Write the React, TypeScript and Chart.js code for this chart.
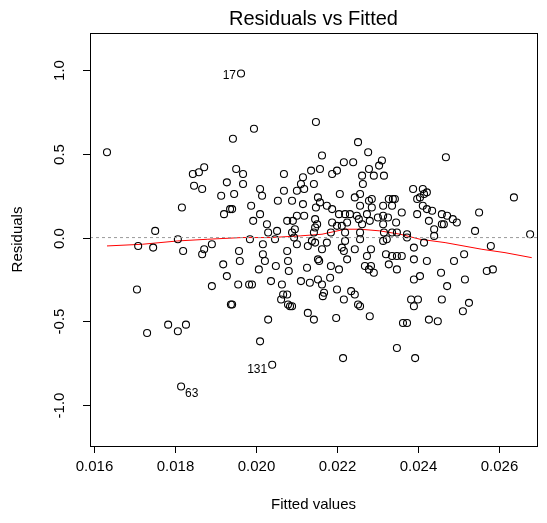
import React, { useEffect, useRef } from "react";
import { Chart, registerables } from "chart.js";

Chart.register(...registerables);

// Fitted values (x) and residuals (y)
const fitted = [
  0.01963, 0.01943, 0.01995, 0.02148, 0.02252, 0.01632, 0.01872, 0.01859, 0.01844, 0.01951,
  0.01968, 0.01928, 0.01968, 0.01847, 0.01867, 0.01946, 0.01914, 0.01817, 0.01921, 0.01936,
  0.01941, 0.01751, 0.02277, 0.02163, 0.02217, 0.0224, 0.02311, 0.02304, 0.02069, 0.02136,
  0.02158, 0.02188, 0.022, 0.02279, 0.02262, 0.02291, 0.02316, 0.02116, 0.02111, 0.02143,
  0.02264, 0.0201, 0.02069, 0.02101, 0.02119, 0.02015, 0.02207, 0.02257, 0.02153, 0.02244,
  0.02286, 0.02279, 0.02328, 0.02054, 0.02089, 0.02158, 0.01988, 0.02116, 0.02175, 0.02188,
  0.02148, 0.02257, 0.02286, 0.02314, 0.02336, 0.02338, 0.0201, 0.01993, 0.02101, 0.02119,
  0.02205, 0.0222, 0.02232, 0.02249, 0.02254, 0.02274, 0.02301, 0.02314, 0.02326, 0.02027,
  0.02077, 0.02091, 0.02146, 0.02151, 0.02188, 0.022, 0.02212, 0.02225, 0.02262, 0.02281,
  0.02314, 0.02052, 0.0203, 0.02089, 0.02096, 0.02146, 0.02143, 0.02185, 0.0222, 0.02257,
  0.02316, 0.02336, 0.02469, 0.02388, 0.02412, 0.02422, 0.02415, 0.02405, 0.02398, 0.02637,
  0.02343, 0.02412, 0.02422, 0.02435, 0.0236, 0.02398, 0.02459, 0.02472, 0.02486, 0.02496,
  0.02551, 0.02427, 0.02459, 0.02464, 0.02346, 0.0244, 0.02541, 0.02677, 0.02373, 0.02348,
  0.01709, 0.01746, 0.01807, 0.0182, 0.01872, 0.01867, 0.01891, 0.01958, 0.0196, 0.01919,
  0.01928, 0.01891, 0.01956, 0.01706, 0.01941, 0.01938, 0.01783, 0.01827, 0.01985, 0.02047,
  0.02094, 0.02101, 0.02138, 0.02146, 0.02128, 0.02175, 0.0222, 0.02257, 0.02314, 0.02323,
  0.02017, 0.02017, 0.02077, 0.02163, 0.02212, 0.02217, 0.02244, 0.02284, 0.02022, 0.02079,
  0.02153, 0.02156, 0.02225, 0.02274, 0.02321, 0.02336, 0.02007, 0.02049, 0.02081, 0.02126,
  0.02185, 0.02205, 0.02269, 0.02284, 0.02279, 0.02291, 0.02328, 0.01983, 0.0199, 0.02037,
  0.02064, 0.02111, 0.02133, 0.02153, 0.02163, 0.02183, 0.022, 0.02235, 0.02244, 0.02168,
  0.02165, 0.02067, 0.02077, 0.02062, 0.02217, 0.02079, 0.02084, 0.02089, 0.02252, 0.02257,
  0.02128, 0.02143, 0.02198, 0.02281, 0.0203, 0.02373, 0.0244, 0.02415, 0.0239, 0.0258,
  0.0236, 0.02348, 0.0239, 0.02422, 0.02489, 0.02514, 0.02348, 0.02457, 0.0257, 0.02585,
  0.0239, 0.02405, 0.02516, 0.02472, 0.02383, 0.024, 0.02459, 0.0239, 0.02526, 0.02511,
  0.02373, 0.02363, 0.02427, 0.02449, 0.01731, 0.01807, 0.01815, 0.0201, 0.0204, 0.02215,
  0.02348, 0.02393,
];

const residuals = [
  0.98, 0.59, 0.65, 0.69, 0.57, 0.51, 0.42, 0.39, 0.38, 0.41,
  0.38, 0.33, 0.32, 0.31, 0.29, 0.26, 0.25, 0.18, 0.14, 0.17,
  0.17, 0.04, 0.51, 0.49, 0.45, 0.45, 0.46, 0.43, 0.38, 0.4,
  0.41, 0.38, 0.4, 0.41, 0.37, 0.37, 0.37, 0.36, 0.32, 0.32,
  0.32, 0.29, 0.28, 0.28, 0.29, 0.25, 0.26, 0.26, 0.24, 0.24,
  0.23, 0.22, 0.23, 0.22, 0.22, 0.21, 0.19, 0.2, 0.19, 0.17,
  0.18, 0.19, 0.18, 0.19, 0.19, 0.23, 0.14, 0.1, 0.13, 0.13,
  0.14, 0.14, 0.14, 0.13, 0.11, 0.14, 0.12, 0.13, 0.12, 0.08,
  0.1, 0.1, 0.11, 0.08, 0.09, 0.07, 0.07, 0.09, 0.08, 0.1,
  0.08, 0.04, 0.03, 0.03, 0.05, 0.06, 0.03, 0.03, 0.03, 0.03,
  0.03, 0.03, 0.48, 0.29, 0.29, 0.27, 0.26, 0.24, 0.23, 0.24,
  0.23, 0.19, 0.17, 0.16, 0.15, 0.14, 0.14, 0.13, 0.11, 0.09,
  0.15, 0.1, 0.08, 0.08, 0.09, 0.05, 0.04, 0.02, 0.02, 0.03,
  -0.05, -0.06, -0.01, -0.08, -0.07, -0.1, -0.04, -0.08, -0.14, -0.16,
  -0.23, -0.29, -0.28, -0.31, -0.4, -0.4, -0.52, -0.52, -0.01, -0.01,
  0.0, -0.04, -0.02, -0.03, -0.05, -0.03, -0.02, -0.01, -0.02, -0.01,
  -0.04, -0.1, -0.08, -0.07, -0.06, -0.08, -0.07, -0.07, -0.14, -0.14,
  -0.13, -0.14, -0.13, -0.11, -0.1, -0.11, -0.19, -0.17, -0.2, -0.18,
  -0.17, -0.19, -0.17, -0.17, -0.19, -0.21, -0.16, -0.28, -0.28, -0.26,
  -0.28, -0.26, -0.27, -0.25, -0.28, -0.24, -0.31, -0.32, -0.34, -0.33,
  -0.35, -0.34, -0.34, -0.37, -0.37, -0.4, -0.41, -0.41, -0.4, -0.41,
  -0.45, -0.49, -0.48, -0.47, -0.49, 0.0, 0.01, -0.03, -0.06, -0.05,
  -0.11, -0.11, -0.13, -0.14, -0.14, -0.1, -0.19, -0.21, -0.2, -0.19,
  -0.25, -0.23, -0.25, -0.29, -0.37, -0.37, -0.37, -0.41, -0.39, -0.44,
  -0.51, -0.51, -0.49, -0.5, -0.57, -0.56, -0.89, -0.62, -0.76, -0.72,
  -0.66, -0.72,
];

// Smoother (red line)
const smoothX = [0.01632, 0.01719, 0.01807, 0.01881, 0.01965, 0.02035, 0.02109, 0.02163, 0.0222, 0.02257, 0.02306, 0.02356, 0.02405, 0.02467, 0.02558, 0.02615, 0.02681];
const smoothY = [-0.05, -0.04, -0.02, -0.01, 0.0, 0.0, 0.01, 0.02, 0.05, 0.05, 0.04, 0.02, -0.01, -0.03, -0.07, -0.09, -0.12];

// Labelled observations
const idLabels = ["17", "131", "63"];
const idFitted = [0.01963, 0.0204, 0.01815];
const idResid = [0.98, -0.76, -0.89];

// Axes
const xMin = 0.0159;
const xMax = 0.02694;
const yMin = -1.245;
const yMax = 1.222;
const xTicks = [0.016, 0.018, 0.02, 0.022, 0.024, 0.026];
const xTickLabels = ["0.016", "0.018", "0.020", "0.022", "0.024", "0.026"];
const yTicks = [-1.0, -0.5, 0.0, 0.5, 1.0];
const yTickLabels = ["-1.0", "-0.5", "0.0", "0.5", "1.0"];

const titleText = "Residuals vs Fitted";
const xTitle = "Fitted values";
const yTitle = "Residuals";

const FONT = '"Liberation Sans", Arial, sans-serif';

const decorPlugin = {
  id: "rdecor",
  afterDraw(chart: any) {
    const ctx = chart.ctx;
    const { left, right, top, bottom } = chart.chartArea;
    const xs = chart.scales.x;
    const ys = chart.scales.y;
    ctx.save();
    ctx.strokeStyle = "#000";
    ctx.fillStyle = "#000";
    ctx.lineWidth = 1;
    // box
    ctx.strokeRect(Math.round(left) + 0.5, Math.round(top) + 0.5, Math.round(right - left), Math.round(bottom - top));
    // x ticks
    ctx.font = `15px ${FONT}`;
    ctx.textAlign = "center";
    ctx.textBaseline = "middle";
    xTicks.forEach((v, i) => {
      const px = Math.round(xs.getPixelForValue(v)) + 0.5;
      ctx.beginPath();
      ctx.moveTo(px, bottom);
      ctx.lineTo(px, bottom + 7);
      ctx.stroke();
      ctx.fillText(xTickLabels[i], px, bottom + 21);
    });
    // y ticks (rotated labels, R style)
    yTicks.forEach((v, i) => {
      const py = Math.round(ys.getPixelForValue(v)) + 0.5;
      ctx.beginPath();
      ctx.moveTo(left - 7, py);
      ctx.lineTo(left, py);
      ctx.stroke();
      ctx.save();
      ctx.translate(left - 30, py);
      ctx.rotate(-Math.PI / 2);
      ctx.fillText(yTickLabels[i], 0, 0);
      ctx.restore();
    });
    // titles
    ctx.font = `20px ${FONT}`;
    ctx.fillText(titleText, (left + right) / 2, 19);
    ctx.font = `15px ${FONT}`;
    ctx.fillText(xTitle, (left + right) / 2, 505);
    ctx.save();
    ctx.translate(18, (top + bottom) / 2);
    ctx.rotate(-Math.PI / 2);
    ctx.fillText(yTitle, 0, 0);
    ctx.restore();
    // id labels
    ctx.font = `12px ${FONT}`;
    idLabels.forEach((lab, i) => {
      const px = xs.getPixelForValue(idFitted[i]);
      const py = ys.getPixelForValue(idResid[i]);
      if (lab === "63") {
        ctx.textAlign = "left";
        ctx.fillText(lab, px + 4, py + 7);
      } else if (lab === "131") {
        ctx.textAlign = "right";
        ctx.fillText(lab, px - 5, py + 5);
      } else {
        ctx.textAlign = "right";
        ctx.fillText(lab, px - 5, py + 2);
      }
    });
    ctx.restore();
  },
};

export default function App() {
  const ref = useRef<HTMLCanvasElement | null>(null);
  useEffect(() => {
    if (!ref.current) return;
    const chart = new Chart(ref.current, {
      type: "scatter",
      data: {
        datasets: [
          {
            type: "line",
            data: [
              { x: xMin, y: 0 },
              { x: xMax, y: 0 },
            ],
            borderColor: "#9a9a9a",
            borderWidth: 1,
            borderDash: [3, 3],
            pointRadius: 0,
            fill: false,
          },
          {
            data: fitted.map((f, i) => ({ x: f, y: residuals[i] })),
            pointStyle: "circle",
            pointRadius: 3.5,
            pointBorderColor: "#000",
            pointBackgroundColor: "rgba(0,0,0,0)",
            pointBorderWidth: 1.1,
            showLine: false,
          },
          {
            type: "line",
            data: smoothX.map((x, i) => ({ x, y: smoothY[i] })),
            borderColor: "#ff0000",
            borderWidth: 1,
            pointRadius: 0,
            tension: 0,
            fill: false,
          },
        ],
      },
      options: {
        animation: false,
        responsive: false,
        devicePixelRatio: 1,
        layout: { padding: { left: 90, top: 33, right: 10, bottom: 77 } },
        plugins: { legend: { display: false }, tooltip: { enabled: false } },
        scales: {
          x: { type: "linear", min: xMin, max: xMax, display: false },
          y: { type: "linear", min: yMin, max: yMax, display: false },
        },
      },
      plugins: [decorPlugin],
    } as any);
    return () => chart.destroy();
  }, []);
  return (
    <div style={{ position: "fixed", left: 0, top: 0, width: 547, height: 523, background: "#fff" }}>
      <canvas ref={ref} width={547} height={523} style={{ display: "block" }} />
    </div>
  );
}
